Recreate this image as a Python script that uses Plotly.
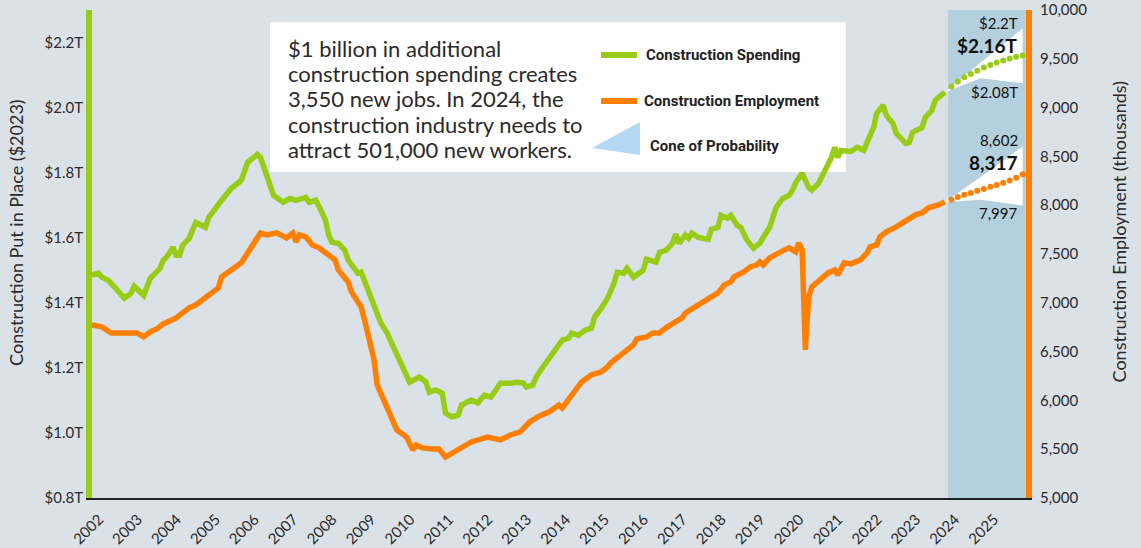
import plotly.graph_objects as go

# ---------------- DATA ----------------
spend_dates = ["2002-01","2002-03","2002-04","2002-06","2002-08","2002-11","2003-01","2003-02","2003-05","2003-07",
               "2003-10","2003-11","2003-12","2004-02","2004-03","2004-04","2004-05","2004-07","2004-09","2004-12",
               "2005-01","2005-04","2005-05","2005-08","2005-11","2006-01","2006-04","2006-05","2006-07","2006-09",
               "2006-12","2007-02","2007-04","2007-07","2007-08","2007-10","2007-11","2008-01","2008-02","2008-03",
               "2008-05","2008-07","2008-08","2008-11","2008-12","2009-03","2009-04","2009-06","2009-08","2009-09",
               "2009-12","2010-03","2010-06","2010-08","2010-09","2010-11","2011-01","2011-02","2011-04","2011-06",
               "2011-07","2011-10","2011-12","2012-02","2012-04","2012-07","2012-10","2012-12","2013-02","2013-03",
               "2013-05","2013-06","2013-08","2013-10","2013-12","2014-02","2014-04","2014-05","2014-07","2014-09",
               "2014-11","2014-12","2015-02","2015-04","2015-06","2015-07","2015-09","2015-10","2015-12","2016-03",
               "2016-04","2016-07","2016-08","2016-10","2016-12","2017-01","2017-02","2017-04","2017-05","2017-06",
               "2017-08","2017-11","2017-12","2018-02","2018-03","2018-05","2018-06","2018-08","2018-09","2018-11",
               "2019-01","2019-03","2019-04","2019-06","2019-08","2019-10","2019-12","2020-01","2020-02","2020-04",
               "2020-06","2020-07","2020-09","2020-11","2021-01","2021-02","2021-03","2021-04","2021-07","2021-09",
               "2021-11","2021-12","2022-02","2022-03","2022-05","2022-06","2022-08","2022-09","2022-12","2023-01",
               "2023-02","2023-05","2023-06","2023-08","2023-09","2023-10","2023-12"]
spend_vals = [1.485,1.491,1.479,1.469,1.448,1.414,1.429,1.451,1.423,1.475,
              1.506,1.531,1.540,1.571,1.546,1.546,1.577,1.598,1.647,1.632,
              1.663,1.706,1.715,1.752,1.776,1.832,1.856,1.847,1.792,1.730,
              1.709,1.721,1.715,1.724,1.709,1.715,1.697,1.654,1.608,1.586,
              1.583,1.561,1.531,1.491,1.494,1.414,1.393,1.340,1.307,1.285,
              1.224,1.156,1.172,1.156,1.125,1.132,1.122,1.061,1.049,1.055,
              1.086,1.101,1.092,1.116,1.110,1.153,1.153,1.156,1.153,1.141,
              1.147,1.172,1.202,1.230,1.254,1.285,1.291,1.307,1.300,1.316,
              1.322,1.356,1.383,1.414,1.460,1.494,1.491,1.506,1.479,1.500,
              1.534,1.525,1.555,1.561,1.583,1.611,1.583,1.608,1.598,1.614,
              1.601,1.595,1.626,1.632,1.669,1.660,1.669,1.638,1.632,1.592,
              1.568,1.583,1.601,1.632,1.693,1.721,1.730,1.746,1.770,1.798,
              1.755,1.746,1.767,1.807,1.847,1.878,1.847,1.868,1.865,1.878,
              1.868,1.893,1.939,1.982,2.007,1.976,1.951,1.921,1.890,1.893,
              1.924,1.939,1.970,1.991,2.022,2.031,2.047]

emp_dates = ["2002-01","2002-04","2002-07","2002-09","2002-11","2003-01","2003-03","2003-05","2003-07","2003-09",
             "2003-11","2004-03","2004-07","2004-09","2004-12","2005-02","2005-04","2005-05","2005-08","2005-11",
             "2006-01","2006-03","2006-05","2006-07","2006-10","2007-01","2007-03","2007-04","2007-05","2007-07",
             "2007-09","2007-11","2008-02","2008-04","2008-05","2008-08","2008-09","2008-12","2009-02","2009-04",
             "2009-05","2009-07","2009-09","2009-11","2010-02","2010-04","2010-05","2010-07","2010-10","2010-12",
             "2011-02","2011-04","2011-07","2011-10","2012-03","2012-05","2012-07","2012-10","2013-01","2013-04",
             "2013-07","2013-10","2014-01","2014-02","2014-04","2014-06","2014-08","2014-11","2015-02","2015-04",
             "2015-05","2015-07","2015-09","2015-12","2016-01","2016-04","2016-06","2016-08","2016-10","2017-01",
             "2017-03","2017-04","2017-07","2017-09","2017-12","2018-02","2018-04","2018-06","2018-07","2018-10",
             "2018-12","2019-02","2019-03","2019-04","2019-06","2019-09","2019-10","2019-12","2020-02","2020-03",
             "2020-04","2020-05","2020-06","2020-07","2020-09","2020-12","2021-02","2021-03","2021-05","2021-07",
             "2021-10","2021-12","2022-01","2022-03","2022-04","2022-06","2022-09","2022-11","2023-02","2023-03",
             "2023-05","2023-07","2023-10","2023-12"]
emp_vals = [6773,6753,6691,6691,6691,6702,6691,6650,6702,6732,
            6784,6845,6948,6978,7060,7101,7153,7265,7337,7409,
            7511,7614,7716,7696,7716,7665,7716,7624,7696,7675,
            7593,7563,7491,7440,7337,7214,7112,6958,6691,6415,
            6158,6005,5830,5697,5625,5492,5543,5513,5502,5502,
            5420,5461,5523,5574,5625,5615,5595,5646,5677,5779,
            5841,5882,5953,5923,6005,6087,6189,6261,6292,6343,
            6384,6435,6486,6568,6630,6650,6691,6691,6743,6804,
            6845,6896,6948,6999,7060,7101,7183,7214,7265,7317,
            7368,7388,7419,7388,7460,7522,7532,7563,7522,7614,
            7542,6517,7060,7163,7214,7306,7337,7286,7409,7399,
            7440,7511,7573,7593,7675,7727,7778,7819,7870,7901,
            7921,7973,8003,8034]

forecast_dates = ["2024-02","2024-04","2024-06","2024-08","2024-10","2024-12",
                  "2025-02","2025-04","2025-06","2025-08","2025-10","2025-12"]
spend_forecast = [2.065,2.080,2.093,2.103,2.113,2.123,2.131,2.139,2.145,2.151,2.156,2.160]
emp_forecast = [8055,8085,8106,8126,8147,8167,8188,8208,8229,8254,8280,8317]

cone_dates = ["2023-12","2024-11","2025-12"]
spend_cone_upper = [2.047, 2.139, 2.243]
spend_cone_lower = [2.047, 2.090, 2.075]
emp_cone_upper = [8034, 8290, 8602]
emp_cone_lower = [8034, 8055, 7997]

forecast_start = "2024-01-01"
axis_start = "2002-01-01"
axis_end = "2026-01-01"
years = list(range(2002, 2026))

left_ticks = [0.8, 1.0, 1.2, 1.4, 1.6, 1.8, 2.0, 2.2]
left_ticktext = ["$0.8T", "$1.0T", "$1.2T", "$1.4T", "$1.6T", "$1.8T", "$2.0T", "$2.2T"]
right_ticks = list(range(5000, 10001, 500))
right_ticktext = [f"{v:,}" for v in right_ticks]

box_lines = ["$1 billion in additional",
             "construction spending creates",
             "3,550 new jobs. In 2024, the",
             "construction industry needs to",
             "attract 501,000 new workers."]

# ---------------- STYLE ----------------
BG = "#dae1e7"
SHADE = "#b4cfdd"
GREEN = "#99cc16"
ORANGE = "#ff7f00"
CONE_LEG = "#b3daf2"
TXT = "#2a2a2a"
FONT = "Lato, sans-serif"
LEGFONT = "Roboto, sans-serif"

fig = go.Figure()

# cones (white)
fig.add_trace(go.Scatter(
    x=cone_dates + cone_dates[::-1], y=spend_cone_upper + spend_cone_lower[::-1],
    fill="toself", fillcolor="white", line=dict(width=0), mode="lines",
    hoverinfo="skip", yaxis="y"))
fig.add_trace(go.Scatter(
    x=cone_dates + cone_dates[::-1], y=emp_cone_upper + emp_cone_lower[::-1],
    fill="toself", fillcolor="white", line=dict(width=0), mode="lines",
    hoverinfo="skip", yaxis="y2"))

# main lines
fig.add_trace(go.Scatter(x=emp_dates, y=emp_vals, mode="lines",
                         line=dict(color=ORANGE, width=5.5), yaxis="y2",
                         name="Construction Employment"))
fig.add_trace(go.Scatter(x=spend_dates, y=spend_vals, mode="lines",
                         line=dict(color=GREEN, width=5.5), yaxis="y",
                         name="Construction Spending"))

# forecast dots
fig.add_trace(go.Scatter(x=forecast_dates, y=spend_forecast, mode="markers",
                         marker=dict(color=GREEN, size=6), yaxis="y"))
fig.add_trace(go.Scatter(x=forecast_dates, y=emp_forecast, mode="markers",
                         marker=dict(color=ORANGE, size=6), yaxis="y2"))

shapes = [
    dict(type="rect", xref="x", yref="paper", x0=forecast_start, x1=axis_end,
         y0=0, y1=1, fillcolor=SHADE, line=dict(width=0), layer="below"),
    # info box
    dict(type="rect", xref="paper", yref="paper", x0=0.1906, x1=0.807, y0=0.668, y1=0.975,
         fillcolor="white", line=dict(width=0), layer="below"),
    # legend swatches
    dict(type="line", xref="paper", yref="paper", x0=0.545, x1=0.5835, y0=0.908, y1=0.908,
         line=dict(color=GREEN, width=6)),
    dict(type="line", xref="paper", yref="paper", x0=0.545, x1=0.5835, y0=0.8135, y1=0.8135,
         line=dict(color=ORANGE, width=6)),
    dict(type="path", xref="paper", yref="paper",
         path="M 0.5353 0.717 L 0.5867 0.7705 L 0.5867 0.703 Z",
         fillcolor=CONE_LEG, line=dict(width=0)),
]

box_y = [0.922, 0.870, 0.818, 0.765, 0.714]
annotations = []
for txt, yy in zip(box_lines, box_y):
    annotations.append(dict(xref="paper", yref="paper", x=0.2075, y=yy, xanchor="left",
                            yanchor="middle", showarrow=False, text=txt,
                            font=dict(family=FONT, size=22, color=TXT)))

annotations += [
    dict(xref="paper", yref="paper", x=0.591, y=0.908, xanchor="left", yanchor="middle",
         showarrow=False, text="<b>Construction Spending</b>",
         font=dict(family=LEGFONT, size=15, color="#222")),
    dict(xref="paper", yref="paper", x=0.589, y=0.8135, xanchor="left", yanchor="middle",
         showarrow=False, text="<b>Construction Employment</b>",
         font=dict(family=LEGFONT, size=15, color="#222")),
    dict(xref="paper", yref="paper", x=0.595, y=0.721, xanchor="left", yanchor="middle",
         showarrow=False, text="<b>Cone of Probability</b>",
         font=dict(family=LEGFONT, size=15, color="#222")),
    # axis titles
    dict(xref="paper", yref="paper", x=-0.0815, y=0.545, xanchor="center", yanchor="middle",
         showarrow=False, textangle=-90, text="Construction Put in Place ($2023)",
         font=dict(family=FONT, size=18, color=TXT)),
    dict(xref="paper", yref="paper", x=1.100, y=0.547, xanchor="center", yanchor="middle",
         showarrow=False, textangle=-90, text="Construction Employment (thousands)",
         font=dict(family=FONT, size=18, color=TXT)),
    # cone labels
    dict(xref="x", yref="y", x="2025-11-05", y=2.261, xanchor="right", yanchor="middle",
         showarrow=False, text="$2.2T", font=dict(family=FONT, size=15, color="#111")),
    dict(xref="x", yref="y", x="2025-11-05", y=2.191, xanchor="right", yanchor="middle",
         showarrow=False, text="<b>$2.16T</b>", font=dict(family=FONT, size=19, color="#111")),
    dict(xref="x", yref="y", x="2025-11-05", y=2.047, xanchor="right", yanchor="middle",
         showarrow=False, text="$2.08T", font=dict(family=FONT, size=15, color="#111")),
    dict(xref="x", yref="y2", x="2025-11-05", y=8670, xanchor="right", yanchor="middle",
         showarrow=False, text="8,602", font=dict(family=FONT, size=15, color="#111")),
    dict(xref="x", yref="y2", x="2025-11-05", y=8434, xanchor="right", yanchor="middle",
         showarrow=False, text="<b>8,317</b>", font=dict(family=FONT, size=19, color="#111")),
    dict(xref="x", yref="y2", x="2025-11-05", y=7921, xanchor="right", yanchor="middle",
         showarrow=False, text="7,997", font=dict(family=FONT, size=15, color="#111")),
]

fig.update_layout(
    width=1141, height=548,
    margin=dict(l=92, r=115, t=10, b=50, autoexpand=False),
    plot_bgcolor=BG, paper_bgcolor=BG,
    showlegend=False,
    font=dict(family=FONT, size=15, color=TXT),
    shapes=shapes, annotations=annotations,
    xaxis=dict(type="date", range=[axis_start, axis_end],
               tickvals=[f"{y}-01-01" for y in years], ticktext=[str(y) for y in years],
               tickangle=-45, showgrid=False, zeroline=False, automargin=False,
               ticklabelshift=7, ticklabelstandoff=5, ticklabeloverflow="allow",
               showline=True, linecolor="#222", linewidth=1.5,
               tickfont=dict(family=FONT, size=15, color=TXT)),
    yaxis=dict(range=[0.8, 2.3], tickvals=left_ticks, ticktext=left_ticktext,
               showgrid=False, zeroline=False, showline=True, linecolor=GREEN, linewidth=6,
               automargin=False, ticklabeloverflow="allow",
               tickfont=dict(family=FONT, size=15, color=TXT)),
    yaxis2=dict(range=[5000, 10000], tickvals=right_ticks, ticktext=right_ticktext,
                overlaying="y", side="right", showgrid=False, zeroline=False,
                showline=True, linecolor=ORANGE, linewidth=6, automargin=False,
                ticklabelstandoff=5, ticklabeloverflow="allow",
                tickfont=dict(family=FONT, size=15, color=TXT)),
)

# remove the default 8px page margin so the 1141x548 figure fills the window exactly
fig.write_html("out.html",
               config={"displayModeBar": False},
               post_script="document.body.style.margin='0';document.body.style.background='#dae1e7';")
